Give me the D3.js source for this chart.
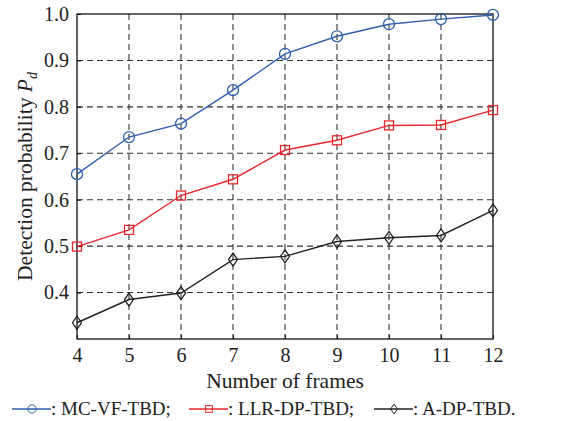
<!DOCTYPE html>
<html>
<head>
<meta charset="utf-8">
<script src="https://cdn.jsdelivr.net/npm/d3@7"></script>
<style>
  body { margin: 0; background: #fff; }
  svg text { font-family: "Liberation Serif", "Times New Roman", serif; fill: #222; }
</style>
</head>
<body>
<div id="chart"></div>
<script>
  var frames = [4, 5, 6, 7, 8, 9, 10, 11, 12];
  var yTicks = [0.4, 0.5, 0.6, 0.7, 0.8, 0.9, 1.0];
  var mcvf = [0.655, 0.735, 0.764, 0.836, 0.914, 0.952, 0.978, 0.989, 0.998];
  var llrdp = [0.499, 0.535, 0.609, 0.644, 0.707, 0.728, 0.760, 0.761, 0.793];
  var adp = [0.335, 0.385, 0.399, 0.471, 0.478, 0.510, 0.518, 0.523, 0.577];

  var series = [
    { name: ': MC-VF-TBD;', values: mcvf, color: '#2f5faf', marker: 'circle' },
    { name: ': LLR-DP-TBD;', values: llrdp, color: '#e8282c', marker: 'square' },
    { name: ': A-DP-TBD.', values: adp, color: '#222', marker: 'diamond' }
  ];

  var margin = { top: 14, right: 69, bottom: 82, left: 77 };
  var width = 562 - margin.left - margin.right;
  var height = 421 - margin.top - margin.bottom;
  var tickFs = 20;
  var titleFs = 21.5;
  var legendFs = 19;

  var svg = d3.select('#chart')
    .append('svg')
    .attr('width', 562)
    .attr('height', 421);

  var g = svg.append('g')
    .attr('transform', 'translate(' + margin.left + ',' + margin.top + ')');

  var x = d3.scaleLinear().domain([4, 12]).range([0, width]);
  var y = d3.scaleLinear().domain([0.3, 1.0]).range([height, 0]);

  // dashed grid
  g.selectAll('.vgrid')
    .data(frames.slice(1, -1))
    .enter().append('line')
    .attr('x1', function(d) { return x(d); })
    .attr('x2', function(d) { return x(d); })
    .attr('y1', 0).attr('y2', height)
    .attr('stroke', '#333').attr('stroke-width', 1.1)
    .attr('stroke-dasharray', '6,4');

  g.selectAll('.hgrid')
    .data(yTicks.slice(0, -1))
    .enter().append('line')
    .attr('x1', 0).attr('x2', width)
    .attr('y1', function(d) { return y(d); })
    .attr('y2', function(d) { return y(d); })
    .attr('stroke', '#333').attr('stroke-width', 1.1)
    .attr('stroke-dasharray', '6,4');

  // frame
  g.append('rect')
    .attr('width', width).attr('height', height)
    .attr('fill', 'none').attr('stroke', '#111').attr('stroke-width', 1.3);

  // inward ticks, labels outside
  var xAxis = g.append('g')
    .attr('transform', 'translate(0,' + height + ')')
    .call(d3.axisBottom(x).tickValues(frames).tickSizeInner(-4).tickSizeOuter(0).tickPadding(9));
  xAxis.select('.domain').remove();
  xAxis.selectAll('line').attr('stroke', '#111');
  xAxis.selectAll('text').attr('font-size', tickFs);

  var yAxis = g.append('g')
    .call(d3.axisLeft(y).tickValues(yTicks).tickSizeInner(-4).tickSizeOuter(0).tickPadding(8)
      .tickFormat(d3.format('.1f')));
  yAxis.select('.domain').remove();
  yAxis.selectAll('line').attr('stroke', '#111');
  yAxis.selectAll('text').attr('font-size', tickFs);

  svg.append('text')
    .attr('x', margin.left + width / 2)
    .attr('y', 388)
    .attr('text-anchor', 'middle')
    .attr('font-size', titleFs)
    .text('Number of frames');

  var yTitle = svg.append('text')
    .attr('transform', 'translate(32,' + (margin.top + height / 2) + ') rotate(-90)')
    .attr('text-anchor', 'middle')
    .attr('font-size', titleFs);
  yTitle.append('tspan').text('Detection probability ');
  yTitle.append('tspan').attr('font-style', 'italic').text('P');
  yTitle.append('tspan').attr('font-style', 'italic').attr('font-size', 14)
    .attr('dy', 5).text('d');

  function drawMarker(sel, type, color) {
    if (type === 'circle') {
      sel.append('circle').attr('r', 5.5);
    } else if (type === 'square') {
      sel.append('rect').attr('x', -4.5).attr('y', -4.5).attr('width', 9).attr('height', 9);
    } else {
      sel.append('path').attr('d', 'M0,-6.5L4.5,0L0,6.5L-4.5,0Z');
    }
    sel.selectAll('*').attr('fill', 'none').attr('stroke', color).attr('stroke-width', 1.3);
  }

  var line = d3.line()
    .x(function(d, i) { return x(frames[i]); })
    .y(function(d) { return y(d); });

  series.forEach(function(s) {
    g.append('path')
      .datum(s.values)
      .attr('fill', 'none')
      .attr('stroke', s.color)
      .attr('stroke-width', 1.4)
      .attr('d', line);

    s.values.forEach(function(v, i) {
      var m = g.append('g')
        .attr('transform', 'translate(' + x(frames[i]) + ',' + y(v) + ')');
      drawMarker(m, s.marker, s.color);
    });
  });

  // legend row
  var legendX = [12, 189, 374];
  series.forEach(function(s, i) {
    var lg = svg.append('g').attr('transform', 'translate(' + legendX[i] + ',409)');
    lg.append('line')
      .attr('x1', 0).attr('x2', 39).attr('y1', 0).attr('y2', 0)
      .attr('stroke', s.color).attr('stroke-width', 1.4);
    var m = lg.append('g').attr('transform', 'translate(20,0)');
    drawMarker(m, s.marker, s.color);
    m.selectAll('*').attr('transform', 'scale(0.75)');
    lg.append('text')
      .attr('x', 39).attr('y', 6)
      .attr('font-size', legendFs)
      .text(s.name);
  });
</script>
</body>
</html>
